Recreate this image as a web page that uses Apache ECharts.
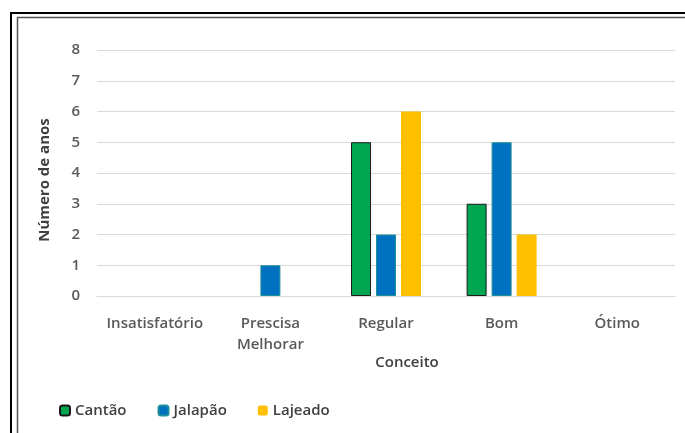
<!DOCTYPE html>
<html>
<head>
<meta charset="utf-8">
<script src="https://cdn.jsdelivr.net/npm/echarts@6/dist/echarts.min.js"></script>
<style>
html,body{margin:0;padding:0;background:#fff;}
#c{width:685px;height:433px;}
</style>
</head>
<body>
<div id="c"></div>
<script>
const categories = ['Insatisfatório', 'Prescisa\nMelhorar', 'Regular', 'Bom', 'Ótimo'];
const cantao = [0, 0, 5, 3, 0];
const jalapao = [0, 1, 2, 5, 0];
const lajeado = [0, 0, 6, 2, 0];
const yTicks = [0, 1, 2, 3, 4, 5, 6, 7, 8];

const FONT = 'Open Sans';
const chart = echarts.init(document.getElementById('c'), null, {renderer: 'canvas'});

function mk(arr) {
  return arr.map(v => v === 0 ? {value: 0, itemStyle: {borderWidth: 0}} : v);
}

chart.setOption({
  animation: false,
  backgroundColor: '#ffffff',
  graphic: [
    {type: 'rect', shape: {x: 11, y: 13, width: 700, height: 460}, style: {fill: 'none', stroke: '#000', lineWidth: 2}, z: 100},
    {type: 'rect', shape: {x: 17.5, y: 17.5, width: 700, height: 460}, style: {fill: 'none', stroke: '#555', lineWidth: 1.5}, z: 100}
  ],
  grid: {left: 97, right: 10, top: 50, bottom: 137},
  legend: {
    left: 54, top: 398,
    itemWidth: 10, itemHeight: 10, itemGap: 31,
    textStyle: {fontFamily: FONT, fontSize: 15, fontWeight: 600, color: '#404040'},
    data: ['Cantão', 'Jalapão', 'Lajeado']
  },
  xAxis: {
    type: 'category',
    data: categories,
    axisLine: {lineStyle: {color: '#D9D9D9', width: 1}},
    axisTick: {show: false},
    axisLabel: {interval: 0, hideOverlap: false, fontFamily: FONT, fontSize: 15, fontWeight: 600, color: '#595959', margin: 17, lineHeight: 21},
    name: 'Conceito',
    nameLocation: 'middle',
    nameGap: 59,
    nameMoveOverlap: false,
    nameTextStyle: {fontFamily: FONT, fontSize: 15, fontWeight: 600, color: '#404040', padding: [0, 0, 0, 42]}
  },
  yAxis: {
    type: 'value',
    min: 0, max: 8, interval: 1,
    axisLine: {show: false},
    axisTick: {show: false},
    splitLine: {lineStyle: {color: '#D9D9D9', width: 1}},
    axisLabel: {fontFamily: FONT, fontSize: 15, fontWeight: 600, color: '#595959', margin: 17,
      formatter: v => yTicks.includes(v) ? String(v) : ''},
    name: 'Número de anos',
    nameLocation: 'middle',
    nameGap: 45,
    nameMoveOverlap: false,
    nameRotate: 90,
    nameTextStyle: {fontFamily: FONT, fontSize: 15, fontWeight: 700, color: '#404040', padding: [0, 14, 0, 0]}
  },
  series: [
    {name: 'Cantão', type: 'bar', data: mk(cantao), barWidth: 20, barGap: '25%',
      itemStyle: {color: '#00A650', borderColor: '#1a1a1a', borderWidth: 1}},
    {name: 'Jalapão', type: 'bar', data: mk(jalapao), barWidth: 20, barGap: '25%',
      itemStyle: {color: '#0070C0', borderColor: '#1f8f9a', borderWidth: 1}},
    {name: 'Lajeado', type: 'bar', data: lajeado, barWidth: 20, barGap: '25%',
      itemStyle: {color: '#FFC000'}}
  ]
});
</script>
</body>
</html>
